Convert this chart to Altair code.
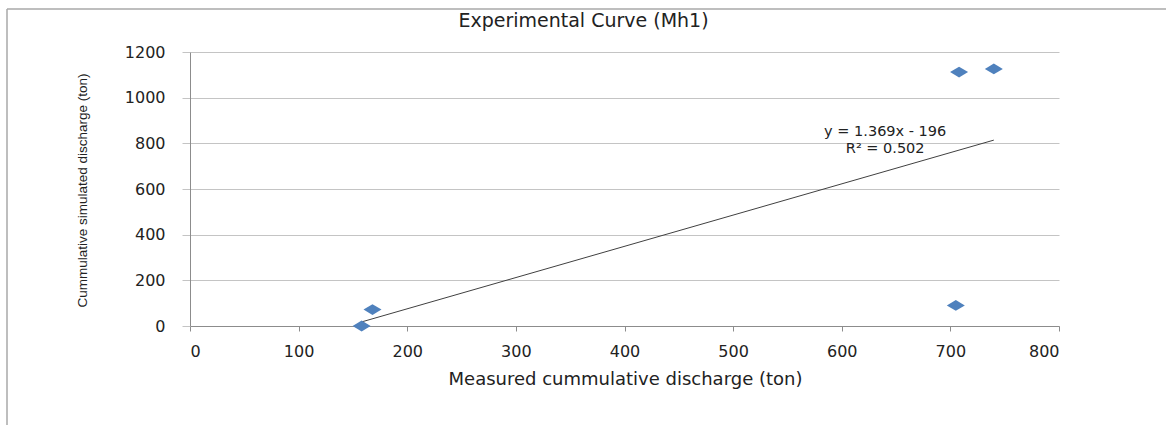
import altair as alt
import pandas as pd

# ---- data ----
measured = [158, 168, 705, 708, 740]          # x: measured cumulative discharge (ton)
simulated = [0, 72, 90, 1112, 1126]           # y: cumulative simulated discharge (ton)
x_ticks = [0, 100, 200, 300, 400, 500, 600, 700, 800]
y_ticks = [0, 200, 400, 600, 800, 1000, 1200]
chart_title = "Experimental Curve (Mh1)"
x_title = "Measured cummulative discharge (ton)"
y_title = "Cummulative simulated discharge (ton)"
eq_text = ["y = 1.369x - 196", "R² = 0.502"]
eq_x = [640, 640]
eq_y = [849, 776]

W, H = 869, 274
PAD_L, PAD_T = 190, 52

df = pd.DataFrame({"x": measured, "y": simulated})
eq_df = pd.DataFrame({"t": eq_text, "x": eq_x, "y": eq_y})
one = pd.DataFrame({"t": [chart_title]})

xscale = alt.Scale(domain=[0, 800], nice=False, zero=False)
yscale = alt.Scale(domain=[0, 1200], nice=False)

x_axis = alt.Axis(
    values=x_ticks, format="d", grid=False, domainColor="#8c8c8c",
    tickColor="#8c8c8c", tickSize=5, labelPadding=12,
    labelFont="DejaVu Sans", labelFontSize=16, labelColor="#222222",
    title=x_title, titleFont="DejaVu Sans", titleFontSize=18,
    titleFontWeight="normal", titleColor="#222222", titleX=435, titleY=53,
    titleBaseline="middle", titleAlign="center",
)
y_axis = alt.Axis(
    values=y_ticks, format="d", grid=True, gridColor="#c4c4c4",
    domainColor="#8c8c8c", tickColor="#c4c4c4", tickSize=8, labelPadding=17,
    labelFont="DejaVu Sans", labelFontSize=16, labelColor="#222222",
    title=y_title, titleFont="Liberation Sans", titleFontSize=13.5,
    titleFontWeight="normal", titleColor="#222222", titleX=-108,
    titleY=138, titleBaseline="middle", titleAlign="center", titleAngle=-90,
)

base = alt.Chart(df)

points = base.mark_point(
    shape="M-1,0L0,-0.6L1,0L0,0.6Z", filled=True, size=324,
    color="#4F81BD", opacity=1,
).encode(
    x=alt.X("x:Q", scale=xscale, axis=x_axis),
    y=alt.Y("y:Q", scale=yscale, axis=y_axis),
)

trend = base.transform_regression("x", "y").mark_line(
    color="#404040", strokeWidth=1
).encode(
    x=alt.X("x:Q", scale=xscale),
    y=alt.Y("y:Q", scale=yscale),
)

eq = alt.Chart(eq_df).mark_text(
    font="DejaVu Sans", fontSize=14.5, color="#222222", align="center",
    baseline="middle",
).encode(
    x=alt.X("x:Q", scale=xscale),
    y=alt.Y("y:Q", scale=yscale),
    text="t:N",
)

title = alt.Chart(one).mark_text(
    font="DejaVu Sans", fontSize=19, color="#222222", align="center",
    baseline="middle",
).encode(text="t:N", x=alt.value(393.5), y=alt.value(-31))

border_top = alt.Chart(one).mark_rule(color="#a8a8a8", strokeWidth=1.5).encode(
    x=alt.value(-183), x2=alt.value(976), y=alt.value(-43)
)
border_left = alt.Chart(one).mark_rule(color="#a8a8a8", strokeWidth=1.5).encode(
    x=alt.value(-183), y=alt.value(-43), y2=alt.value(373)
)

chart = alt.layer(border_top, border_left, trend, points, eq, title).properties(
    width=W, height=H,
    autosize=alt.AutoSizeParams(type="none"),
    padding={"left": PAD_L, "top": PAD_T, "right": 1166 - PAD_L - W,
             "bottom": 425 - PAD_T - H},
    background="white",
).configure_view(strokeWidth=0)

chart.save("out.html", embed_options={"renderer": "svg", "actions": False})
